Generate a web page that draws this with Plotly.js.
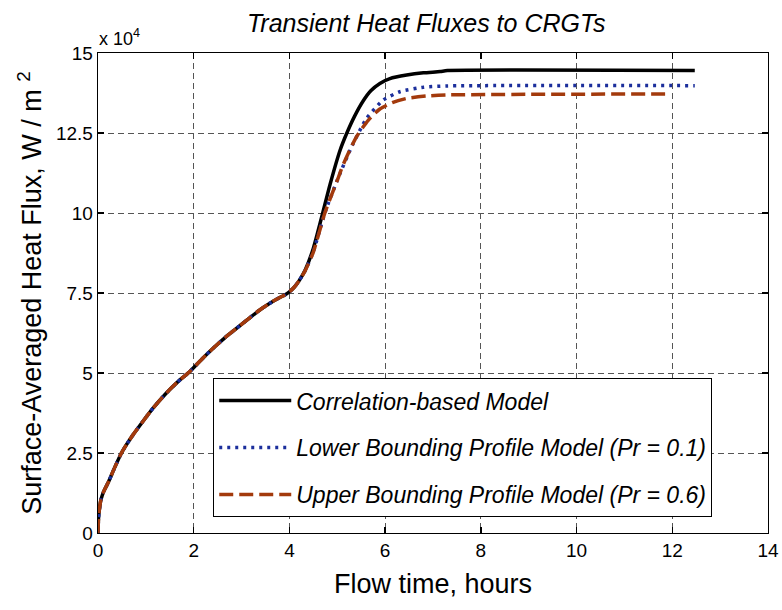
<!DOCTYPE html>
<html>
<head>
<meta charset="utf-8">
<script src="https://cdn.plot.ly/plotly-3.0.1.min.js"></script>
<style>html,body{margin:0;padding:0;background:#fff}#chart{width:782px;height:610px}</style>
</head>
<body>
<div id="chart"></div>
<script>
// Flow time (hours) and surface-averaged heat flux (x 10^4 W/m^2)
const corrT = [0, 0.01, 0.03, 0.06, 0.12, 0.22, 0.35, 0.49, 0.7, 0.91, 1.15, 1.4, 1.65, 1.92, 2.2, 2.44, 2.65, 2.9, 3.15, 3.38, 3.6, 3.8, 3.92, 4.0, 4.1, 4.2, 4.33, 4.5, 4.67, 4.85, 5.06, 5.2, 5.36, 5.54, 5.7, 5.89, 6.1, 6.45, 6.8, 7.15, 7.3, 12.47];
const corrQ = [0, 0.45, 0.75, 1.03, 1.3, 1.6, 2.05, 2.5, 3.0, 3.43, 3.9, 4.33, 4.7, 5.05, 5.48, 5.82, 6.1, 6.4, 6.7, 6.97, 7.19, 7.36, 7.45, 7.54, 7.68, 7.88, 8.22, 8.9, 9.85, 10.9, 11.97, 12.5, 13.02, 13.5, 13.82, 14.05, 14.2, 14.31, 14.38, 14.42, 14.45, 14.45];

const lowT = [0, 0.01, 0.03, 0.06, 0.12, 0.22, 0.35, 0.49, 0.7, 0.91, 1.15, 1.4, 1.65, 1.92, 2.2, 2.44, 2.65, 2.9, 3.15, 3.38, 3.6, 3.8, 3.92, 4.0, 4.1, 4.2, 4.33, 4.5, 4.74, 5.02, 5.3, 5.61, 5.96, 6.31, 6.8, 7.29, 12.47];
const lowQ = [0, 0.45, 0.75, 1.03, 1.3, 1.6, 2.05, 2.5, 3.0, 3.43, 3.9, 4.33, 4.7, 5.05, 5.48, 5.82, 6.1, 6.4, 6.7, 6.97, 7.19, 7.36, 7.45, 7.54, 7.68, 7.88, 8.2, 8.8, 10.0, 11.1, 12.07, 12.95, 13.53, 13.79, 13.93, 13.97, 13.98];

const upT = [0, 0.01, 0.03, 0.06, 0.12, 0.22, 0.35, 0.49, 0.7, 0.91, 1.15, 1.4, 1.65, 1.92, 2.2, 2.44, 2.65, 2.9, 3.15, 3.38, 3.6, 3.8, 3.92, 4.0, 4.1, 4.2, 4.33, 4.5, 4.74, 5.02, 5.12, 5.4, 5.65, 5.89, 6.15, 6.45, 6.9, 7.29, 11.85];
const upQ = [0, 0.45, 0.75, 1.03, 1.3, 1.6, 2.05, 2.5, 3.0, 3.43, 3.9, 4.33, 4.7, 5.05, 5.48, 5.82, 6.1, 6.4, 6.7, 6.97, 7.19, 7.36, 7.45, 7.54, 7.68, 7.88, 8.2, 8.78, 10.0, 11.1, 11.5, 12.38, 12.9, 13.25, 13.45, 13.58, 13.66, 13.69, 13.72];

const names = ['Correlation-based Model', 'Lower Bounding Profile Model (Pr = 0.1)', 'Upper Bounding Profile Model (Pr = 0.6)'];
const xTicks = [0, 2, 4, 6, 8, 10, 12, 14];
const yTicks = [0, 2.5, 5, 7.5, 10, 12.5, 15];
const yTickText = ['0', '2.5', '5', '7.5', '10', '12.5', '15'];

const FONT = 'Liberation Sans, Arial, sans-serif';

const traces = [
  {x: corrT, y: corrQ, name: '<i>' + names[0] + '</i>', legendgroup: 'a', mode: 'lines',
   line: {color: '#000000', width: 3.5, shape: 'spline', smoothing: 0.6}},
  {x: lowT, y: lowQ, name: '<i>' + names[1] + '</i>', legendgroup: 'b', mode: 'lines',
   line: {color: '#1c2f9c', width: 3.5, dash: '3px,5px', shape: 'spline', smoothing: 0.6}},
  {x: upT, y: upQ, name: '<i>' + names[2] + '</i>', legendgroup: 'c', mode: 'lines',
   line: {color: '#a33a0c', width: 3.5, dash: '14px,6px', shape: 'spline', smoothing: 0.6}}
];

const axisCommon = {
  showline: true, linecolor: '#000', linewidth: 1.3, mirror: 'ticks',
  ticks: 'inside', ticklen: 6, tickcolor: '#000', tickwidth: 1.3,
  showgrid: true, gridcolor: '#555', gridwidth: 1, griddash: '6px,4px',
  zeroline: false,
  tickfont: {family: FONT, size: 19, color: '#000'}
};

const layout = {
  width: 782, height: 610,
  margin: {l: 98, r: 14, t: 53, b: 77},
  paper_bgcolor: '#fff', plot_bgcolor: '#fff',
  font: {family: FONT, color: '#000'},
  title: {text: '<i>Transient Heat Fluxes to CRGTs</i>', x: 0.545, xanchor: 'center', y: 0.962, yanchor: 'middle',
          font: {size: 25, family: FONT, color: '#000'}},
  xaxis: Object.assign({}, axisCommon, {
    range: [0, 14], tickvals: xTicks,
    title: {text: 'Flow time, hours', standoff: 14, font: {size: 27, color: '#000'}}
  }),
  yaxis: Object.assign({}, axisCommon, {
    range: [0, 15], tickvals: yTicks, ticktext: yTickText,
    title: {text: 'Surface-Averaged Heat Flux, W / m <sup>2</sup>', standoff: 6, font: {size: 27, color: '#000'}}
  }),
  showlegend: true,
  legend: {
    x: 0.172, y: 0.033, xanchor: 'left', yanchor: 'bottom',
    bgcolor: '#fff', bordercolor: '#000', borderwidth: 1,
    traceorder: 'grouped', tracegroupgap: 14, itemwidth: 72,
    font: {size: 23, family: FONT, color: '#000'}
  },
  annotations: [
    {text: 'x 10<sup>4</sup>', xref: 'paper', yref: 'paper', x: -0.002, y: 1.005,
     xanchor: 'left', yanchor: 'bottom', showarrow: false,
     font: {size: 18, family: FONT, color: '#000'}}
  ]
};

Plotly.newPlot('chart', traces, layout, {displayModeBar: false, staticPlot: true});
</script>
</body>
</html>
